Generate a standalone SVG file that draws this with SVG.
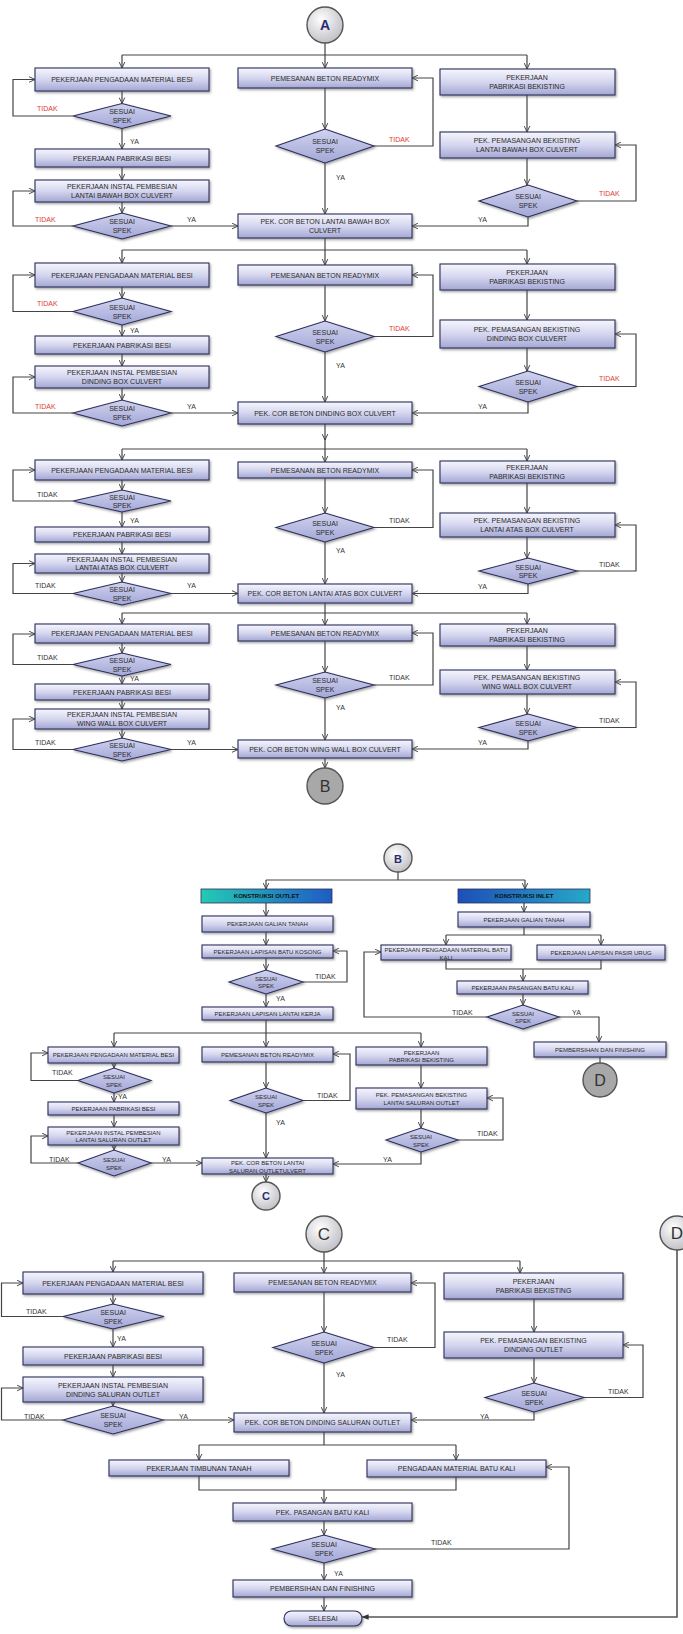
<svg xmlns="http://www.w3.org/2000/svg" width="683" height="1634" viewBox="0 0 683 1634">
<defs>
<linearGradient id="gb" x1="0" y1="0" x2="0" y2="1"><stop offset="0" stop-color="#f6f6fd"/><stop offset="0.5" stop-color="#d5d6ef"/><stop offset="1" stop-color="#a4a7d4"/></linearGradient>
<linearGradient id="gd" x1="0" y1="0" x2="0" y2="1"><stop offset="0" stop-color="#d0d2ef"/><stop offset="1" stop-color="#a3a7d6"/></linearGradient>
<radialGradient id="gc" cx="0.4" cy="0.35" r="0.7"><stop offset="0" stop-color="#ffffff"/><stop offset="1" stop-color="#bdbdc3"/></radialGradient>
<linearGradient id="go" x1="0" y1="0" x2="1" y2="0"><stop offset="0" stop-color="#25c9b5"/><stop offset="1" stop-color="#1f5cc4"/></linearGradient>
<linearGradient id="gi" x1="0" y1="0" x2="1" y2="0"><stop offset="0" stop-color="#1d4fb8"/><stop offset="1" stop-color="#27a8c8"/></linearGradient>
<filter id="sh" x="-5%" y="-20%" width="110%" height="150%"><feDropShadow dx="1.2" dy="1.5" stdDeviation="0.8" flood-color="#555" flood-opacity="0.55"/></filter>
<marker id="ar" viewBox="0 0 10 10" refX="9.5" refY="5" markerWidth="7" markerHeight="7" markerUnits="userSpaceOnUse" orient="auto"><path d="M1,1 L9.5,5 L1,9" fill="none" stroke="#444" stroke-width="1.4"/></marker>
<marker id="af" viewBox="0 0 10 10" refX="9.5" refY="5" markerWidth="7" markerHeight="7" markerUnits="userSpaceOnUse" orient="auto"><path d="M0,1 L10,5 L0,9 Z" fill="#333"/></marker>
</defs>
<style>
.b{fill:url(#gb);stroke:#2c2e5c;stroke-width:1.1;filter:url(#sh)}
.d{fill:url(#gd);stroke:#2c2e5c;stroke-width:1.1;filter:url(#sh)}
.t{font-family:"Liberation Sans",Arial,sans-serif;font-size:7px;fill:#2a2a2a;text-anchor:middle}
.s{font-family:"Liberation Sans",Arial,sans-serif;font-size:6px;fill:#2a2a2a;text-anchor:middle}
.l{font-family:"Liberation Sans",Arial,sans-serif;font-size:7px;fill:#333}
.r{fill:#e03a32}
.c{fill:none;stroke:#444;stroke-width:1.2}
.ca{fill:none;stroke:#444;stroke-width:1.2;marker-end:url(#ar)}
.ci{fill:url(#gc);stroke:#555;stroke-width:1.4}
.cg{fill:#a8a8a8;stroke:#555;stroke-width:1.4}
.k{font-family:"Liberation Sans",Arial,sans-serif;font-size:6px;font-weight:bold;fill:#111;text-anchor:middle}
</style>

<g id="connectors">
<!-- Section 1 -->
<path class="c" d="M325,43 V55 M122,55 H527"/>
<path class="ca" d="M122,55 V68"/><path class="ca" d="M325,55 V68"/><path class="ca" d="M527,55 V69"/>
<path class="ca" d="M122,91 V103.5"/>
<path class="ca" d="M73,116 H13 V79.5 H35"/>
<path class="ca" d="M122,128.5 V149"/>
<path class="ca" d="M122,167 V180"/>
<path class="ca" d="M122,202 V213"/>
<path class="ca" d="M73,226 H13 V191 H35"/>
<path class="ca" d="M171,226 H238"/>
<path class="ca" d="M325,88 V129"/>
<path class="ca" d="M374,146 H433 V78 H412"/>
<path class="ca" d="M325,163 V214"/>
<path class="ca" d="M527,95 V132"/>
<path class="ca" d="M527,158 V185"/>
<path class="ca" d="M577,201 H636 V145 H615"/>
<path class="ca" d="M528,217 V226 H412"/>
<!-- Section 2 -->
<path class="c" d="M325,238 V250 M122,250 H527"/>
<path class="ca" d="M122,250 V263"/><path class="ca" d="M325,250 V265"/><path class="ca" d="M527,250 V264"/>
<path class="ca" d="M122,287 V298"/>
<path class="ca" d="M73,311.5 H13 V275 H35"/>
<path class="ca" d="M122,325 V336"/>
<path class="ca" d="M122,354 V366"/>
<path class="ca" d="M122,388 V400"/>
<path class="ca" d="M73,413 H13 V377 H35"/>
<path class="ca" d="M171,413 H238"/>
<path class="ca" d="M325,285 V321"/>
<path class="ca" d="M374,336.5 H433 V275 H412"/>
<path class="ca" d="M325,352 V402"/>
<path class="ca" d="M527,290 V320"/>
<path class="ca" d="M527,348 V371"/>
<path class="ca" d="M577,386.5 H636 V334 H615"/>
<path class="ca" d="M528,402 V413 H412"/>
<!-- Section 3 -->
<path class="ca" d="M325,424 V440"/>
<path class="c" d="M325,438 V449 M122,449 H527"/>
<path class="ca" d="M122,449 V460"/><path class="ca" d="M325,449 V462"/><path class="ca" d="M527,449 V461"/>
<path class="ca" d="M122,480 V490"/>
<path class="ca" d="M73,501 H13 V470 H35"/>
<path class="ca" d="M122,512 V527"/>
<path class="ca" d="M122,542 V554"/>
<path class="ca" d="M122,573 V582"/>
<path class="ca" d="M73,593.5 H13 V563.5 H35"/>
<path class="ca" d="M171,593.5 H238"/>
<path class="ca" d="M325,478 V513"/>
<path class="ca" d="M374,527.5 H433 V470 H412"/>
<path class="ca" d="M325,542 V584"/>
<path class="ca" d="M527,483 V513"/>
<path class="ca" d="M527,537 V558"/>
<path class="ca" d="M577,571 H636 V525 H615"/>
<path class="ca" d="M528,584 V593.5 H412"/>
<!-- Section 4 -->
<path class="c" d="M325,603 V613 M122,613 H527"/>
<path class="ca" d="M122,613 V624"/><path class="ca" d="M325,613 V625"/><path class="ca" d="M527,613 V624"/>
<path class="ca" d="M122,643 V653"/>
<path class="ca" d="M73,664.5 H13 V634 H35"/>
<path class="ca" d="M122,676 V684"/>
<path class="ca" d="M122,700 V709"/>
<path class="ca" d="M122,729 V738"/>
<path class="ca" d="M73,749.5 H13 V719 H35"/>
<path class="ca" d="M171,749.5 H238"/>
<path class="ca" d="M325,641 V672"/>
<path class="ca" d="M374,685 H433 V633 H412"/>
<path class="ca" d="M325,698 V740"/>
<path class="ca" d="M527,646 V670"/>
<path class="ca" d="M527,694 V714"/>
<path class="ca" d="M577,727.5 H636 V682 H615"/>
<path class="ca" d="M528,741 V749 H412"/>
<path class="ca" d="M325,758 V768"/>
<!-- Part B -->
<path class="c" d="M398,872 V880 M266,880 H525"/>
<path class="ca" d="M266,880 V889"/><path class="ca" d="M525,880 V889"/>
<path class="ca" d="M266,903 V916"/>
<path class="ca" d="M266,932 V945"/>
<path class="ca" d="M266,958 V970"/>
<path class="ca" d="M303,982 H347 V951 H333"/>
<path class="ca" d="M266,994 V1007"/>
<path class="ca" d="M524,903 V912"/>
<path class="c" d="M524,927 V935 M446,935 H601"/>
<path class="ca" d="M446,935 V945"/><path class="ca" d="M601,935 V945"/>
<path class="c" d="M446,960 V969 H601 V960"/>
<path class="ca" d="M523,969 V981"/>
<path class="ca" d="M523,994 V1005"/>
<path class="ca" d="M487,1017 H364 V952 H381"/>
<path class="ca" d="M559,1017 H599 V1042"/>
<path class="c" d="M600,1057 V1063"/>
<path class="c" d="M266,1020 V1033 M114,1033 H421"/>
<path class="ca" d="M114,1033 V1047"/><path class="ca" d="M266,1033 V1047"/><path class="ca" d="M421,1033 V1047"/>
<path class="ca" d="M114,1063 V1068"/>
<path class="ca" d="M78,1080.5 H31 V1053 H48"/>
<path class="ca" d="M114,1093 V1102"/>
<path class="ca" d="M114,1115 V1127"/>
<path class="ca" d="M114,1145 V1150"/>
<path class="ca" d="M78,1163 H31 V1136 H48"/>
<path class="ca" d="M151,1163 H202"/>
<path class="ca" d="M266,1062 V1088"/>
<path class="ca" d="M303,1100.5 H350 V1054 H333"/>
<path class="ca" d="M266,1113 V1158"/>
<path class="ca" d="M421,1065 V1088"/>
<path class="ca" d="M421,1109 V1128"/>
<path class="ca" d="M458,1140 H503 V1098 H487"/>
<path class="ca" d="M421,1152 V1164 H333"/>
<path class="ca" d="M266,1174 V1182"/>
<!-- Part C -->
<path class="c" d="M324,1252 V1261 M113,1261 H520"/>
<path class="ca" d="M113,1261 V1272"/><path class="ca" d="M324,1261 V1273"/><path class="ca" d="M520,1261 V1273"/>
<path class="ca" d="M113,1294 V1304"/>
<path class="ca" d="M63,1316.5 H1.5 V1283 H23"/>
<path class="ca" d="M113,1329 V1347"/>
<path class="ca" d="M113,1365 V1377"/>
<path class="ca" d="M113,1402 V1406"/>
<path class="ca" d="M63,1420 H1.5 V1388 H23"/>
<path class="ca" d="M163,1420 H234"/>
<path class="ca" d="M324,1292 V1332"/>
<path class="ca" d="M374,1347.5 H435 V1283 H411"/>
<path class="ca" d="M324,1363 V1413"/>
<path class="ca" d="M534,1299 V1332"/>
<path class="ca" d="M534,1358 V1383"/>
<path class="ca" d="M584,1397.5 H643 V1345 H623"/>
<path class="ca" d="M534,1412 V1420 H411"/>
<path class="c" d="M324,1432 V1445 M199,1445 H456"/>
<path class="ca" d="M199,1445 V1460"/><path class="ca" d="M456,1445 V1460"/>
<path class="c" d="M199,1476 V1490 H456 V1477"/>
<path class="ca" d="M324,1490 V1503"/>
<path class="ca" d="M324,1521 V1535"/>
<path class="ca" d="M374,1549 H569 V1467 H546"/>
<path class="ca" d="M324,1563 V1580"/>
<path class="ca" d="M324,1597 V1611"/>
<path d="M677,1250 V1617 H362" fill="none" stroke="#555" stroke-width="1.6" marker-end="url(#af)"/>
</g>

<g id="labels">
<text class="l r" x="37" y="111">TIDAK</text><text class="l" x="130" y="144">YA</text>
<text class="l r" x="35" y="222">TIDAK</text><text class="l" x="187" y="222">YA</text>
<text class="l r" x="389" y="142">TIDAK</text><text class="l" x="336" y="180">YA</text>
<text class="l r" x="599" y="196">TIDAK</text><text class="l" x="478" y="222">YA</text>
<text class="l r" x="37" y="306">TIDAK</text><text class="l" x="130" y="333">YA</text>
<text class="l r" x="35" y="409">TIDAK</text><text class="l" x="187" y="409">YA</text>
<text class="l r" x="389" y="331">TIDAK</text><text class="l" x="336" y="368">YA</text>
<text class="l r" x="599" y="381">TIDAK</text><text class="l" x="478" y="409">YA</text>
<text class="l" x="37" y="497">TIDAK</text><text class="l" x="130" y="523">YA</text>
<text class="l" x="35" y="588">TIDAK</text><text class="l" x="187" y="588">YA</text>
<text class="l" x="389" y="523">TIDAK</text><text class="l" x="336" y="553">YA</text>
<text class="l" x="599" y="567">TIDAK</text><text class="l" x="478" y="589">YA</text>
<text class="l" x="37" y="660">TIDAK</text><text class="l" x="130" y="681">YA</text>
<text class="l" x="35" y="745">TIDAK</text><text class="l" x="187" y="745">YA</text>
<text class="l" x="389" y="680">TIDAK</text><text class="l" x="336" y="710">YA</text>
<text class="l" x="599" y="723">TIDAK</text><text class="l" x="478" y="745">YA</text>
<text class="l" x="315" y="979" font-size="6">TIDAK</text><text class="l" x="276" y="1001" font-size="6">YA</text>
<text class="l" x="452" y="1015" font-size="6">TIDAK</text><text class="l" x="572" y="1015" font-size="6">YA</text>
<text class="l" x="52" y="1075" font-size="6">TIDAK</text><text class="l" x="118" y="1099" font-size="6">YA</text>
<text class="l" x="49" y="1162" font-size="6">TIDAK</text><text class="l" x="162" y="1162" font-size="6">YA</text>
<text class="l" x="317" y="1098" font-size="6">TIDAK</text><text class="l" x="276" y="1125" font-size="6">YA</text>
<text class="l" x="477" y="1136" font-size="6">TIDAK</text><text class="l" x="383" y="1162" font-size="6">YA</text>
<text class="l" x="26" y="1314">TIDAK</text><text class="l" x="117" y="1341">YA</text>
<text class="l" x="24" y="1419">TIDAK</text><text class="l" x="179" y="1419">YA</text>
<text class="l" x="387" y="1342">TIDAK</text><text class="l" x="336" y="1377">YA</text>
<text class="l" x="608" y="1394">TIDAK</text><text class="l" x="480" y="1419">YA</text>
<text class="l" x="431" y="1545">TIDAK</text><text class="l" x="334" y="1576">YA</text>
</g>

<!-- ============ SECTION 1 ============ -->
<g id="nA"><circle class="ci" cx="325" cy="25" r="18"/><text x="325" y="30" font-family="Liberation Sans,Arial,sans-serif" font-size="14" font-weight="bold" fill="#2a2c72" text-anchor="middle">A</text></g>
<g id="s1L1"><rect class="b" x="35" y="68" width="174" height="23"/><text class="t" x="122" y="82">PEKERJAAN PENGADAAN MATERIAL BESI</text></g>
<g id="s1LD1"><polygon class="d" points="73,116 122,103.5 171,116 122,128.5"/><text class="t" x="122" y="114">SESUAI</text><text class="t" x="122" y="123">SPEK</text></g>
<g id="s1L2"><rect class="b" x="35" y="149" width="174" height="18"/><text class="t" x="122" y="160.5">PEKERJAAN PABRIKASI BESI</text></g>
<g id="s1L3"><rect class="b" x="35" y="180" width="174" height="22"/><text class="t" x="122" y="189">PEKERJAAN INSTAL PEMBESIAN</text><text class="t" x="122" y="198">LANTAI BAWAH BOX CULVERT</text></g>
<g id="s1LD2"><polygon class="d" points="73,226 122,213 171,226 122,239"/><text class="t" x="122" y="224">SESUAI</text><text class="t" x="122" y="233">SPEK</text></g>
<g id="s1M1"><rect class="b" x="238" y="68" width="174" height="20"/><text class="t" x="325" y="80.5">PEMESANAN BETON READYMIX</text></g>
<g id="s1MD"><polygon class="d" points="276,146 325,129 374,146 325,163"/><text class="t" x="325" y="144">SESUAI</text><text class="t" x="325" y="153">SPEK</text></g>
<g id="s1COR"><rect class="b" x="238" y="214" width="174" height="24"/><text class="t" x="325" y="224">PEK. COR BETON LANTAI BAWAH BOX</text><text class="t" x="325" y="233">CULVERT</text></g>
<g id="s1R1"><rect class="b" x="440" y="69" width="175" height="26"/><text class="t" x="527" y="80">PEKERJAAN</text><text class="t" x="527" y="89">PABRIKASI BEKISTING</text></g>
<g id="s1R2"><rect class="b" x="440" y="132" width="175" height="26"/><text class="t" x="527" y="143">PEK. PEMASANGAN BEKISTING</text><text class="t" x="527" y="152">LANTAI BAWAH BOX CULVERT</text></g>
<g id="s1RD"><polygon class="d" points="479,201 528,185 577,201 528,217"/><text class="t" x="528" y="199">SESUAI</text><text class="t" x="528" y="208">SPEK</text></g>

<!-- ============ SECTION 2 ============ -->
<g id="s2L1"><rect class="b" x="35" y="263" width="174" height="24"/><text class="t" x="122" y="277.5">PEKERJAAN PENGADAAN MATERIAL BESI</text></g>
<g id="s2LD1"><polygon class="d" points="73,311.5 122,298 171,311.5 122,325"/><text class="t" x="122" y="309.5">SESUAI</text><text class="t" x="122" y="318.5">SPEK</text></g>
<g id="s2L2"><rect class="b" x="35" y="336" width="174" height="18"/><text class="t" x="122" y="347.5">PEKERJAAN PABRIKASI BESI</text></g>
<g id="s2L3"><rect class="b" x="35" y="366" width="174" height="22"/><text class="t" x="122" y="375">PEKERJAAN INSTAL PEMBESIAN</text><text class="t" x="122" y="384">DINDING BOX CULVERT</text></g>
<g id="s2LD2"><polygon class="d" points="73,413 122,400 171,413 122,426"/><text class="t" x="122" y="411">SESUAI</text><text class="t" x="122" y="420">SPEK</text></g>
<g id="s2M1"><rect class="b" x="238" y="265" width="174" height="20"/><text class="t" x="325" y="277.5">PEMESANAN BETON READYMIX</text></g>
<g id="s2MD"><polygon class="d" points="276,336.5 325,321 374,336.5 325,352"/><text class="t" x="325" y="334.5">SESUAI</text><text class="t" x="325" y="343.5">SPEK</text></g>
<g id="s2COR"><rect class="b" x="238" y="402" width="174" height="22"/><text class="t" x="325" y="415.5">PEK. COR BETON DINDING BOX CULVERT</text></g>
<g id="s2R1"><rect class="b" x="440" y="264" width="175" height="26"/><text class="t" x="527" y="275">PEKERJAAN</text><text class="t" x="527" y="284">PABRIKASI BEKISTING</text></g>
<g id="s2R2"><rect class="b" x="440" y="320" width="175" height="28"/><text class="t" x="527" y="332">PEK. PEMASANGAN BEKISTING</text><text class="t" x="527" y="341">DINDING BOX CULVERT</text></g>
<g id="s2RD"><polygon class="d" points="479,386.5 528,371 577,386.5 528,402"/><text class="t" x="528" y="384.5">SESUAI</text><text class="t" x="528" y="393.5">SPEK</text></g>

<!-- ============ SECTION 3 ============ -->
<g id="s3L1"><rect class="b" x="35" y="460" width="174" height="20"/><text class="t" x="122" y="472.5">PEKERJAAN PENGADAAN MATERIAL BESI</text></g>
<g id="s3LD1"><polygon class="d" points="73,501 122,490 171,501 122,512"/><text class="t" x="122" y="499.5">SESUAI</text><text class="t" x="122" y="508">SPEK</text></g>
<g id="s3L2"><rect class="b" x="35" y="527" width="174" height="15"/><text class="t" x="122" y="537">PEKERJAAN PABRIKASI BESI</text></g>
<g id="s3L3"><rect class="b" x="35" y="554" width="174" height="19"/><text class="t" x="122" y="562">PEKERJAAN INSTAL PEMBESIAN</text><text class="t" x="122" y="570">LANTAI ATAS BOX CULVERT</text></g>
<g id="s3LD2"><polygon class="d" points="73,593.5 122,582 171,593.5 122,605"/><text class="t" x="122" y="592">SESUAI</text><text class="t" x="122" y="600.5">SPEK</text></g>
<g id="s3M1"><rect class="b" x="238" y="462" width="174" height="16"/><text class="t" x="325" y="472.5">PEMESANAN BETON READYMIX</text></g>
<g id="s3MD"><polygon class="d" points="276,527.5 325,513 374,527.5 325,542"/><text class="t" x="325" y="525.5">SESUAI</text><text class="t" x="325" y="534.5">SPEK</text></g>
<g id="s3COR"><rect class="b" x="238" y="584" width="174" height="19"/><text class="t" x="325" y="596">PEK. COR BETON LANTAI ATAS BOX CULVERT</text></g>
<g id="s3R1"><rect class="b" x="440" y="461" width="175" height="22"/><text class="t" x="527" y="470">PEKERJAAN</text><text class="t" x="527" y="479">PABRIKASI BEKISTING</text></g>
<g id="s3R2"><rect class="b" x="440" y="513" width="175" height="24"/><text class="t" x="527" y="523">PEK. PEMASANGAN BEKISTING</text><text class="t" x="527" y="532">LANTAI ATAS BOX CULVERT</text></g>
<g id="s3RD"><polygon class="d" points="479,571 528,558 577,571 528,584"/><text class="t" x="528" y="569.5">SESUAI</text><text class="t" x="528" y="578">SPEK</text></g>

<!-- ============ SECTION 4 ============ -->
<g id="s4L1"><rect class="b" x="35" y="624" width="174" height="19"/><text class="t" x="122" y="636">PEKERJAAN PENGADAAN MATERIAL BESI</text></g>
<g id="s4LD1"><polygon class="d" points="73,664.5 122,653 171,664.5 122,676"/><text class="t" x="122" y="663">SESUAI</text><text class="t" x="122" y="671.5">SPEK</text></g>
<g id="s4L2"><rect class="b" x="35" y="684" width="174" height="16"/><text class="t" x="122" y="694.5">PEKERJAAN PABRIKASI BESI</text></g>
<g id="s4L3"><rect class="b" x="35" y="709" width="174" height="20"/><text class="t" x="122" y="717">PEKERJAAN INSTAL PEMBESIAN</text><text class="t" x="122" y="725.5">WING WALL  BOX CULVERT</text></g>
<g id="s4LD2"><polygon class="d" points="73,749.5 122,738 171,749.5 122,761"/><text class="t" x="122" y="748">SESUAI</text><text class="t" x="122" y="756.5">SPEK</text></g>
<g id="s4M1"><rect class="b" x="238" y="625" width="174" height="16"/><text class="t" x="325" y="635.5">PEMESANAN BETON READYMIX</text></g>
<g id="s4MD"><polygon class="d" points="276,685 325,672 374,685 325,698"/><text class="t" x="325" y="683">SESUAI</text><text class="t" x="325" y="692">SPEK</text></g>
<g id="s4COR"><rect class="b" x="238" y="740" width="174" height="18"/><text class="t" x="325" y="751.5">PEK. COR BETON WING WALL BOX CULVERT</text></g>
<g id="s4R1"><rect class="b" x="440" y="624" width="175" height="22"/><text class="t" x="527" y="633">PEKERJAAN</text><text class="t" x="527" y="642">PABRIKASI BEKISTING</text></g>
<g id="s4R2"><rect class="b" x="440" y="670" width="175" height="24"/><text class="t" x="527" y="680">PEK. PEMASANGAN BEKISTING</text><text class="t" x="527" y="689">WING WALL BOX CULVERT</text></g>
<g id="s4RD"><polygon class="d" points="479,727.5 528,714 577,727.5 528,741"/><text class="t" x="528" y="725.5">SESUAI</text><text class="t" x="528" y="734.5">SPEK</text></g>
<g id="nB1"><circle class="cg" cx="325" cy="786" r="18"/><text x="325" y="792" font-family="Liberation Sans,Arial,sans-serif" font-size="16" fill="#333" text-anchor="middle">B</text></g>

<!-- ============ PART B ============ -->
<g id="nB2"><circle class="ci" cx="398" cy="858" r="14"/><text x="398" y="862.5" font-family="Liberation Sans,Arial,sans-serif" font-size="11" font-weight="bold" fill="#2a2c72" text-anchor="middle">B</text></g>
<g id="outlet"><rect x="201" y="889" width="131" height="14" fill="url(#go)" stroke="#2c2e5c" stroke-width="0.8"/><text class="k" x="266.5" y="898">KONSTRUKSI OUTLET</text></g>
<g id="inlet"><rect x="458" y="889" width="132" height="14" fill="url(#gi)" stroke="#2c2e5c" stroke-width="0.8"/><text class="k" x="524" y="898">KONSTRUKSI INLET</text></g>
<g id="oGalian"><rect class="b" x="202" y="916" width="131" height="16"/><text class="s" x="267.5" y="926">PEKERJAAN GALIAN TANAH</text></g>
<g id="oKosong"><rect class="b" x="202" y="945" width="131" height="13"/><text class="s" x="267.5" y="953.5">PEKERJAAN LAPISAN BATU KOSONG</text></g>
<g id="oD1"><polygon class="d" points="229,982 266,970 303,982 266,994"/><text class="s" x="266" y="980.5">SESUAI</text><text class="s" x="266" y="988">SPEK</text></g>
<g id="oKerja"><rect class="b" x="202" y="1007" width="131" height="13"/><text class="s" x="267.5" y="1015.5">PEKERJAAN LAPISAN LANTAI KERJA</text></g>
<g id="iGalian"><rect class="b" x="458" y="912" width="132" height="15"/><text class="s" x="524" y="921.5">PEKERJAAN GALIAN TANAH</text></g>
<g id="iBatu"><rect class="b" x="381" y="945" width="130" height="15"/><text class="s" x="446" y="952">PEKERJAAN PENGADAAN MATERIAL BATU</text><text class="s" x="446" y="960">KALI</text></g>
<g id="iPasir"><rect class="b" x="537" y="945" width="128" height="15"/><text class="s" x="601" y="954.5">PEKERJAAN LAPISAN PASIR URUG</text></g>
<g id="iPasangan"><rect class="b" x="457" y="981" width="131" height="13"/><text class="s" x="522.5" y="989.5">PEKERJAAN PASANGAN BATU KALI</text></g>
<g id="iD"><polygon class="d" points="487,1017 523,1005 559,1017 523,1029"/><text class="s" x="523" y="1015.5">SESUAI</text><text class="s" x="523" y="1023">SPEK</text></g>
<g id="iFinish"><rect class="b" x="534" y="1042" width="132" height="15"/><text class="s" x="600" y="1051.5">PEMBERSIHAN DAN FINISHING</text></g>
<g id="nD1"><circle class="cg" cx="600" cy="1080" r="17"/><text x="600" y="1086" font-family="Liberation Sans,Arial,sans-serif" font-size="16" fill="#333" text-anchor="middle">D</text></g>
<g id="oL1"><rect class="b" x="48" y="1047" width="131" height="16"/><text class="s" x="113.5" y="1057">PEKERJAAN PENGADAAN MATERIAL BESI</text></g>
<g id="oLD1"><polygon class="d" points="78,1080.5 114,1068 151,1080.5 114,1093"/><text class="s" x="114" y="1079">SESUAI</text><text class="s" x="114" y="1087">SPEK</text></g>
<g id="oL2"><rect class="b" x="48" y="1102" width="131" height="13"/><text class="s" x="113.5" y="1110.5">PEKERJAAN PABRIKASI BESI</text></g>
<g id="oL3"><rect class="b" x="48" y="1127" width="131" height="18"/><text class="s" x="113.5" y="1134.5">PEKERJAAN INSTAL PEMBESIAN</text><text class="s" x="113.5" y="1142">LANTAI SALURAN OUTLET</text></g>
<g id="oLD2"><polygon class="d" points="78,1163 114,1150 151,1163 114,1176"/><text class="s" x="114" y="1161.5">SESUAI</text><text class="s" x="114" y="1169.5">SPEK</text></g>
<g id="oM1"><rect class="b" x="202" y="1047" width="131" height="15"/><text class="s" x="267.5" y="1056.5">PEMESANAN BETON READYMIX</text></g>
<g id="oMD"><polygon class="d" points="230,1100.5 266,1088 303,1100.5 266,1113"/><text class="s" x="266" y="1099">SESUAI</text><text class="s" x="266" y="1107">SPEK</text></g>
<g id="oCOR"><rect class="b" x="202" y="1158" width="131" height="16"/><text class="s" x="267.5" y="1165">PEK. COR BETON LANTAI</text><text class="s" x="267.5" y="1173">SALURAN OUTLETULVERT</text></g>
<g id="oR1"><rect class="b" x="356" y="1047" width="131" height="18"/><text class="s" x="421.5" y="1054.5">PEKERJAAN</text><text class="s" x="421.5" y="1062">PABRIKASI BEKISTING</text></g>
<g id="oR2"><rect class="b" x="356" y="1088" width="131" height="21"/><text class="s" x="421.5" y="1097">PEK. PEMASANGAN BEKISTING</text><text class="s" x="421.5" y="1105">LANTAI SALURAN OUTLET</text></g>
<g id="oRD"><polygon class="d" points="386,1140 421,1128 458,1140 421,1152"/><text class="s" x="421" y="1138.5">SESUAI</text><text class="s" x="421" y="1146.5">SPEK</text></g>
<g id="nC1"><circle class="ci" cx="266" cy="1196" r="14"/><text x="266" y="1200" font-family="Liberation Sans,Arial,sans-serif" font-size="11" font-weight="bold" fill="#2a2c72" text-anchor="middle">C</text></g>

<!-- ============ PART C ============ -->
<g id="nC2"><circle class="ci" cx="324" cy="1234" r="18"/><text x="324" y="1240" font-family="Liberation Sans,Arial,sans-serif" font-size="17" fill="#333" text-anchor="middle">C</text></g>
<g id="nD2"><circle class="ci" cx="677" cy="1233" r="17"/><text x="677" y="1239" font-family="Liberation Sans,Arial,sans-serif" font-size="17" fill="#333" text-anchor="middle">D</text></g>
<g id="cL1"><rect class="b" x="23" y="1272" width="180" height="22"/><text class="t" x="113" y="1285.5">PEKERJAAN PENGADAAN MATERIAL BESI</text></g>
<g id="cLD1"><polygon class="d" points="63,1316.5 113,1304 164,1316.5 113,1329"/><text class="t" x="113" y="1314.5">SESUAI</text><text class="t" x="113" y="1323.5">SPEK</text></g>
<g id="cL2"><rect class="b" x="23" y="1347" width="180" height="18"/><text class="t" x="113" y="1358.5">PEKERJAAN PABRIKASI BESI</text></g>
<g id="cL3"><rect class="b" x="23" y="1377" width="180" height="25"/><text class="t" x="113" y="1387.5">PEKERJAAN INSTAL PEMBESIAN</text><text class="t" x="113" y="1396.5">DINDING SALURAN OUTLET</text></g>
<g id="cLD2"><polygon class="d" points="63,1420 113,1406 163,1420 113,1434"/><text class="t" x="113" y="1418">SESUAI</text><text class="t" x="113" y="1427">SPEK</text></g>
<g id="cM1"><rect class="b" x="234" y="1273" width="177" height="19"/><text class="t" x="322.5" y="1285">PEMESANAN BETON READYMIX</text></g>
<g id="cMD"><polygon class="d" points="273,1347.5 324,1332 374,1347.5 324,1363"/><text class="t" x="324" y="1345.5">SESUAI</text><text class="t" x="324" y="1354.5">SPEK</text></g>
<g id="cCOR"><rect class="b" x="234" y="1413" width="177" height="19"/><text class="t" x="322.5" y="1425">PEK. COR BETON DINDING SALURAN OUTLET</text></g>
<g id="cR1"><rect class="b" x="444" y="1273" width="179" height="26"/><text class="t" x="533.5" y="1284">PEKERJAAN</text><text class="t" x="533.5" y="1293">PABRIKASI BEKISTING</text></g>
<g id="cR2"><rect class="b" x="444" y="1332" width="179" height="26"/><text class="t" x="533.5" y="1343">PEK. PEMASANGAN BEKISTING</text><text class="t" x="533.5" y="1352">DINDING OUTLET</text></g>
<g id="cRD"><polygon class="d" points="485,1397.5 534,1383 584,1397.5 534,1412"/><text class="t" x="534" y="1395.5">SESUAI</text><text class="t" x="534" y="1404.5">SPEK</text></g>
<g id="cTimbunan"><rect class="b" x="109" y="1460" width="180" height="16"/><text class="t" x="199" y="1470.5">PEKERJAAN TIMBUNAN TANAH</text></g>
<g id="cBatuKali"><rect class="b" x="367" y="1460" width="179" height="17"/><text class="t" x="456.5" y="1471">PENGADAAN MATERIAL BATU KALI</text></g>
<g id="cPasangan"><rect class="b" x="233" y="1503" width="179" height="18"/><text class="t" x="322.5" y="1514.5">PEK. PASANGAN BATU KALI</text></g>
<g id="cD"><polygon class="d" points="272,1549 324,1535 375,1549 324,1563"/><text class="t" x="324" y="1547">SESUAI</text><text class="t" x="324" y="1556">SPEK</text></g>
<g id="cFinish"><rect class="b" x="233" y="1580" width="179" height="17"/><text class="t" x="322.5" y="1591">PEMBERSIHAN DAN FINISHING</text></g>
<g id="selesai"><rect class="b" x="284" y="1611" width="78" height="15" rx="7.5"/><text class="t" x="323" y="1621">SELESAI</text></g>
</svg>
